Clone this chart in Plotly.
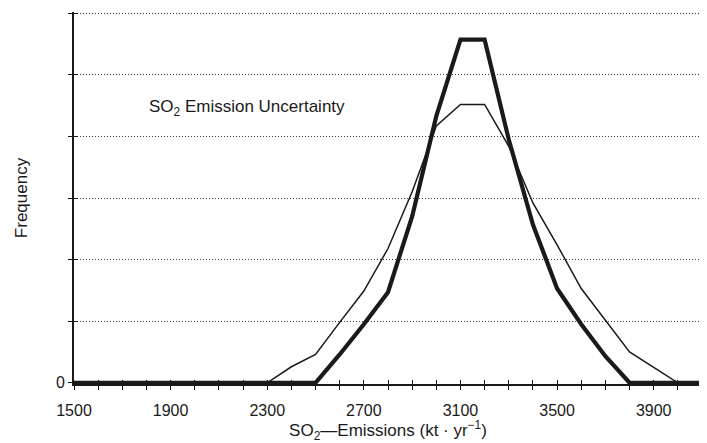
import plotly.graph_objects as go

# Data
heavy_x = [1500, 2500, 2600, 2700, 2800, 2900, 3000, 3100, 3200, 3300, 3400, 3500, 3600, 3700, 3800, 4100]
heavy_y = [0, 0, 0.46, 0.95, 1.47, 2.70, 4.33, 5.57, 5.57, 3.95, 2.57, 1.53, 0.95, 0.43, 0, 0]

thin_x = [1500, 2300, 2400, 2500, 2600, 2700, 2800, 2900, 3000, 3100, 3200, 3300, 3400, 3500, 3600, 3700, 3800, 3900, 4000, 4100]
thin_y = [0, 0, 0.26, 0.46, 0.98, 1.49, 2.18, 3.10, 4.17, 4.52, 4.52, 3.84, 2.92, 2.24, 1.53, 1.02, 0.50, 0.25, 0, 0]

x_label_vals = [1500, 1900, 2300, 2700, 3100, 3500, 3900]
x_minor_vals = list(range(1500, 4101, 100))
y_label_vals = [0]
y_minor_vals = [1, 2, 3, 4, 5, 6]

FONT = "Liberation Sans, Arial, Helvetica, sans-serif"
INK = "#1a1a1a"

fig = go.Figure()
fig.add_trace(go.Scatter(x=thin_x, y=thin_y, mode="lines",
                         line=dict(color=INK, width=1.5), hoverinfo="skip"))
fig.add_trace(go.Scatter(x=heavy_x, y=heavy_y, mode="lines",
                         line=dict(color=INK, width=4.2), hoverinfo="skip"))
# helper trace for overlaid axes (crossing ticks)
fig.add_trace(go.Scatter(x=[1500], y=[0], xaxis="x2", yaxis="y2", mode="lines",
                         line=dict(width=0), hoverinfo="skip"))

xr = [1500, 4100]
yr = [-0.02, 6.02]

# the page body adds an 8px offset, so the figure is 8px smaller than the window
fig.update_layout(
    width=699, height=435,
    margin=dict(l=66, r=5, t=4, b=59),
    paper_bgcolor="white", plot_bgcolor="white",
    showlegend=False,
    font=dict(family=FONT, color=INK, size=16),
    xaxis=dict(range=xr, tickvals=x_label_vals,
               ticks="outside", ticklen=4, tickwidth=1.2, tickcolor=INK,
               minor=dict(tickvals=x_minor_vals, ticks="outside", ticklen=4,
                          tickwidth=1.2, tickcolor=INK, showgrid=False),
               showline=True, linecolor=INK, linewidth=2,
               showgrid=False, zeroline=False, automargin=False,
               ticklabelstandoff=7,
               tickfont=dict(size=16, family=FONT, color=INK),
               title=dict(text="SO<sub>2</sub>\u2014Emissions (kt \u00b7 yr<sup>\u22121</sup>)",
                          font=dict(size=17, family=FONT, color=INK), standoff=2)),
    yaxis=dict(range=yr, tickvals=y_label_vals,
               ticks="outside", ticklen=4, tickwidth=1.2, tickcolor=INK,
               minor=dict(tickvals=y_minor_vals, ticks="outside", ticklen=4,
                          tickwidth=1.2, tickcolor=INK, showgrid=True,
                          gridcolor="#3a3a3a", gridwidth=1, griddash="1px,2px"),
               showline=True, linecolor=INK, linewidth=1.8,
               showgrid=False, zeroline=False, automargin=False,
               tickfont=dict(size=16, family=FONT, color=INK),
               title=dict(text="Frequency", font=dict(size=17, family=FONT, color=INK), standoff=24)),
    xaxis2=dict(range=xr, overlaying="x", anchor="y2", side="bottom",
                tickvals=x_minor_vals, showticklabels=False,
                ticks="inside", ticklen=4, tickwidth=1.2, tickcolor=INK,
                showline=False, showgrid=False, zeroline=False, automargin=False),
    yaxis2=dict(range=yr, overlaying="y", anchor="x2", side="left",
                tickvals=y_minor_vals, showticklabels=False,
                ticks="inside", ticklen=4, tickwidth=1.2, tickcolor=INK,
                showline=False, showgrid=False, zeroline=False, automargin=False),
    annotations=[dict(text="SO<sub>2</sub> Emission Uncertainty",
                      xref="paper", yref="paper", x=0.117, y=0.742,
                      xanchor="left", yanchor="middle", showarrow=False,
                      font=dict(size=17, family=FONT, color=INK))],
)

fig.write_html("out.html")
